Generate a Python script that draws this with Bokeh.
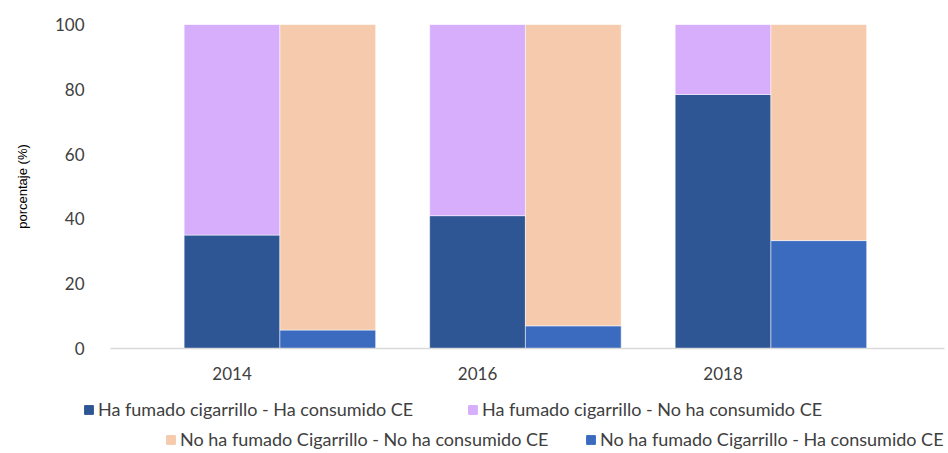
from bokeh.plotting import figure
from bokeh.models import ColumnDataSource, Range1d, Legend, LegendItem, FixedTicker
from bokeh.embed import file_html
from bokeh.resources import INLINE

years = ["2014", "2016", "2018"]
fumado_ce = [35.0, 41.0, 78.4]        # Ha fumado cigarrillo - Ha consumido CE
fumado_no_ce = [65.0, 59.0, 21.6]     # Ha fumado cigarrillo - No ha consumido CE
no_fumado_ce = [5.7, 7.0, 33.3]       # No ha fumado Cigarrillo - Ha consumido CE
no_fumado_no_ce = [94.3, 93.0, 66.7]  # No ha fumado Cigarrillo - No ha consumido CE

labels = [
    "Ha fumado cigarrillo - Ha consumido CE",
    "Ha fumado cigarrillo - No ha consumido CE",
    "No ha fumado Cigarrillo - No ha consumido CE",
    "No ha fumado Cigarrillo - Ha consumido CE",
]
colors = ["#2e5594", "#d7aefc", "#f6cbad", "#3b6bbf"]

idx = list(range(len(years)))
offset = 0.39
width = 0.39
x_left = [i for i in idx]
x_right = [i + offset for i in idx]

src = ColumnDataSource(dict(
    xl=x_left, xr=x_right,
    a=fumado_ce, b=fumado_no_ce, c=no_fumado_no_ce, d=no_fumado_ce,
))

p = figure(width=948, height=395, output_backend="svg", toolbar_location=None,
           x_range=Range1d(-0.495, 2.902), y_range=Range1d(0, 100),
           min_border_left=110, min_border_right=4, min_border_top=24,
           min_border_bottom=47)
p.outline_line_color = None
p.grid.visible = False

p.vbar_stack(["a", "b"], x="xl", width=width, source=src,
             color=colors[:2], line_color="white", line_width=0.5)
p.vbar_stack(["d", "c"], x="xr", width=width, source=src,
             color=[colors[3], colors[2]], line_color="white", line_width=0.5)

font = "Lato"
p.yaxis.ticker = FixedTicker(ticks=[0, 20, 40, 60, 80, 100])
p.yaxis.axis_line_color = None
p.yaxis.major_tick_line_color = None
p.yaxis.major_tick_out = 0
p.yaxis.minor_tick_line_color = None
p.yaxis.minor_tick_out = 0
p.yaxis.major_label_standoff = 26
p.yaxis.major_label_text_font = font
p.yaxis.major_label_text_font_size = "17px"
p.yaxis.major_label_text_color = "#404040"
p.yaxis.axis_label = "porcentaje (%)"
p.yaxis.axis_label_text_font = "Liberation Sans"
p.yaxis.axis_label_text_font_size = "13px"
p.yaxis.axis_label_text_font_style = "normal"
p.yaxis.axis_label_text_color = "#000000"
p.yaxis.axis_label_standoff = 22

p.xaxis.ticker = FixedTicker(ticks=idx)
p.xaxis.major_label_overrides = {i: y for i, y in zip(idx, years)}
p.xaxis.axis_line_color = "#d9d9d9"
p.xaxis.axis_line_width = 1.5
p.xaxis.major_tick_line_color = None
p.xaxis.major_tick_out = 0
p.xaxis.minor_tick_line_color = None
p.xaxis.minor_tick_out = 0
p.xaxis.major_label_standoff = 18
p.xaxis.major_label_text_font = font
p.xaxis.major_label_text_font_size = "17px"
p.xaxis.major_label_text_color = "#404040"

# legend strip (separate root; its bars sit outside its visible range)
lf = figure(width=948, height=58, output_backend="svg", toolbar_location=None,
            x_range=Range1d(4, 5), y_range=Range1d(200, 201),
            x_axis_location=None, y_axis_location=None,
            min_border_left=0, min_border_right=0, min_border_top=0,
            min_border_bottom=0)
lf.grid.visible = False
lf.outline_line_color = None

series_cols = ["a", "b", "c", "d"]
series_x = ["xl", "xl", "xr", "xr"]
positions = [(83, 33), (467, 33), (165, 3), (585, 3)]
for lab, col, sc, sx, loc in zip(labels, colors, series_cols, series_x, positions):
    r = lf.vbar(x=sx, top=sc, width=width, source=src, color=col)
    lg = Legend(items=[LegendItem(label=lab, renderers=[r])],
                location=loc, padding=0, margin=0, spacing=0,
                border_line_color=None, background_fill_alpha=0,
                glyph_width=11, glyph_height=11, label_standoff=4,
                label_text_font=font, label_text_font_size="18px",
                label_text_color="#404040", label_height=19)
    lf.add_layout(lg, "center")

open("out.html", "w").write(file_html([p, lf], INLINE))
